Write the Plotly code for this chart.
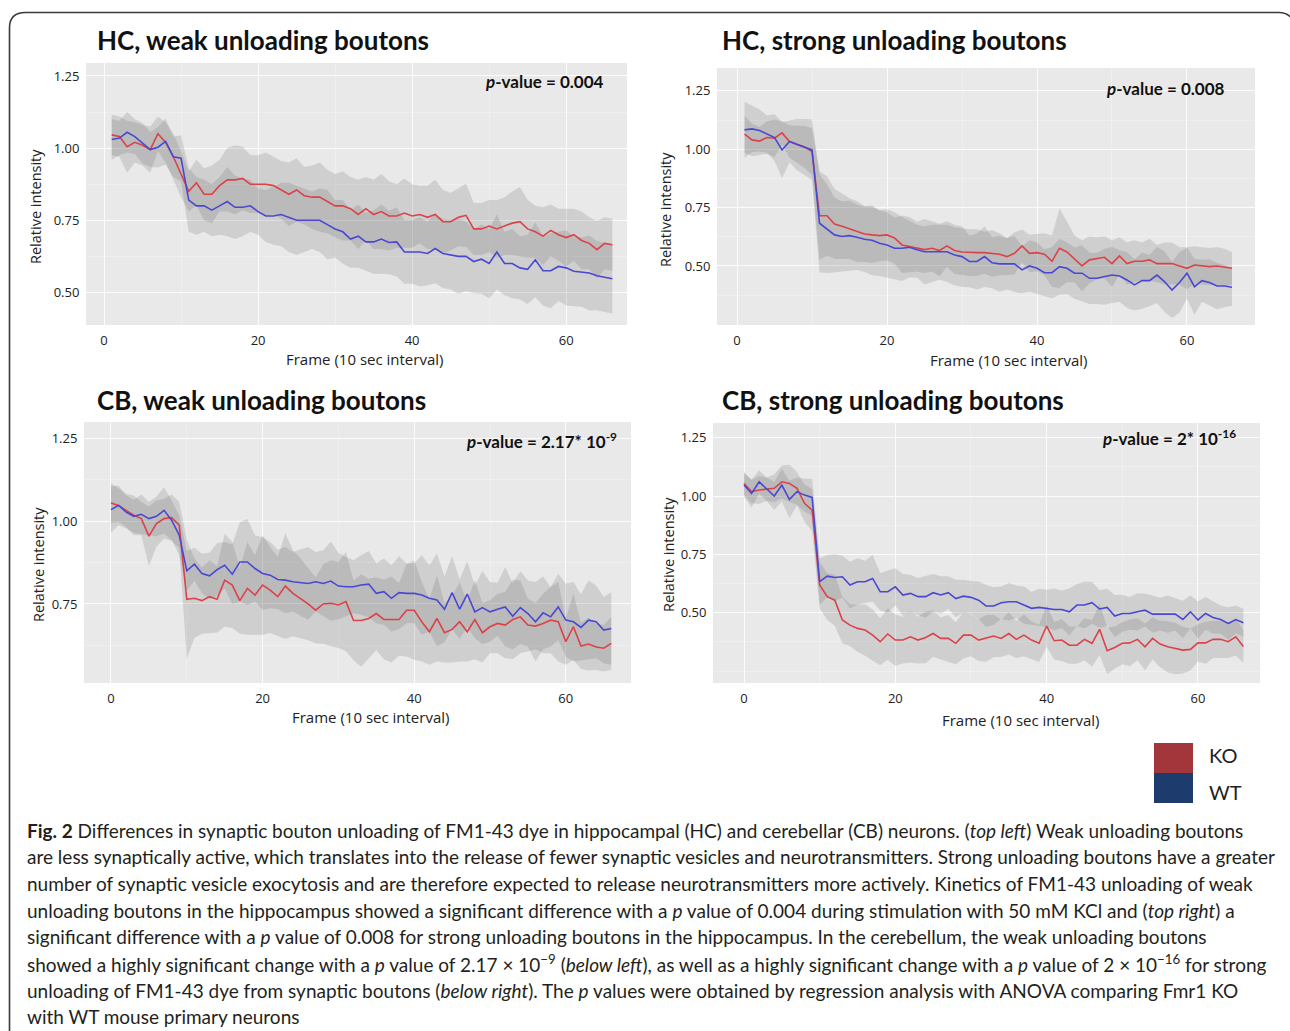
import numpy as np
import plotly.graph_objects as go

W, H = 1290, 1031

# ---------------- data ----------------
frames_hc = list(range(1, 67))
frames_cb = list(range(0, 67))
x_ticks = [0, 20, 40, 60]

hc_weak_ko = [1.046, 1.04, 1.005, 1.02, 1.01, 0.995, 1.05, 1.02, 0.97, 0.91,
              0.85, 0.88, 0.84, 0.84, 0.87, 0.89, 0.89, 0.895, 0.875, 0.875,
              0.875, 0.87, 0.855, 0.84, 0.855, 0.835, 0.83, 0.83, 0.815, 0.80,
              0.80, 0.79, 0.77, 0.79, 0.77, 0.78, 0.765, 0.765, 0.775, 0.765,
              0.77, 0.76, 0.77, 0.745, 0.745, 0.76, 0.767, 0.72, 0.72, 0.73,
              0.72, 0.73, 0.74, 0.745, 0.72, 0.71, 0.695, 0.715, 0.70, 0.69,
              0.70, 0.68, 0.67, 0.648, 0.67, 0.665]
hc_weak_ko_sd = [.07, .07, .09, .07, .07, .08, .06, .07, .08, .08,
                 .07, .08, .09, .10, .09, .11, .12, .11, .10, .10,
                 .11, .10, .10, .11, .11, .10, .11, .12, .11, .11,
                 .12, .11, .12, .11, .12, .13, .12, .11, .12, .11,
                 .10, .11, .12, .11, .10, .10, .11, .09, .09, .09,
                 .10, .10, .11, .12, .10, .09, .10, .09, .09, .10,
                 .09, .10, .09, .10, .09, .09]
hc_weak_wt = [1.03, 1.035, 1.055, 1.04, 1.017, 0.995, 1.003, 1.023, 0.97, 0.965,
              0.82, 0.80, 0.80, 0.785, 0.80, 0.815, 0.795, 0.795, 0.80, 0.78,
              0.765, 0.765, 0.77, 0.76, 0.75, 0.75, 0.75, 0.75, 0.735, 0.72,
              0.71, 0.685, 0.695, 0.675, 0.675, 0.685, 0.673, 0.675, 0.64, 0.64,
              0.64, 0.635, 0.652, 0.635, 0.63, 0.625, 0.625, 0.607, 0.615, 0.60,
              0.64, 0.60, 0.60, 0.585, 0.58, 0.613, 0.575, 0.575, 0.59, 0.585,
              0.573, 0.57, 0.567, 0.558, 0.552, 0.547]
hc_weak_wt_sd = [.07, .06, .07, .06, .07, .06, .07, .08, .07, .08,
                 .11, .10, .09, .09, .10, .12, .11, .10, .09, .08,
                 .09, .10, .11, .12, .12, .11, .10, .11, .12, .10,
                 .11, .10, .11, .10, .11, .12, .11, .12, .11, .11,
                 .12, .11, .12, .12, .12, .13, .12, .11, .12, .12,
                 .13, .11, .12, .11, .12, .13, .12, .13, .12, .13,
                 .12, .12, .13, .12, .12, .12]

hc_strong_ko = [1.065, 1.04, 1.035, 1.05, 1.047, 1.07, 1.033, 1.02, 1.01, 0.99,
                0.715, 0.715, 0.68, 0.67, 0.66, 0.647, 0.637, 0.633, 0.63, 0.633,
                0.62, 0.59, 0.583, 0.576, 0.57, 0.576, 0.566, 0.586, 0.566, 0.56,
                0.557, 0.557, 0.557, 0.554, 0.55, 0.54, 0.554, 0.586, 0.554, 0.557,
                0.55, 0.52, 0.576, 0.56, 0.53, 0.50, 0.526, 0.533, 0.537, 0.51,
                0.543, 0.51, 0.52, 0.52, 0.526, 0.51, 0.51, 0.51, 0.50, 0.49,
                0.504, 0.50, 0.497, 0.50, 0.494, 0.49]
hc_strong_ko_sd = [.08, .07, .06, .07, .08, .05, .07, .08, .09, .10,
                   .19, .17, .15, .14, .13, .13, .12, .12, .11, .11,
                   .11, .12, .11, .10, .10, .10, .11, .09, .10, .10,
                   .10, .10, .09, .10, .09, .08, .09, .07, .08, .08,
                   .09, .11, .17, .13, .10, .11, .10, .09, .09, .10,
                   .08, .09, .09, .08, .09, .08, .09, .09, .08, .09,
                   .08, .08, .08, .08, .08, .07]
hc_strong_wt = [1.083, 1.087, 1.08, 1.065, 1.05, 0.997, 1.033, 1.02, 1.01, 0.997,
                0.683, 0.66, 0.633, 0.626, 0.63, 0.623, 0.614, 0.61, 0.597, 0.59,
                0.576, 0.576, 0.58, 0.569, 0.561, 0.561, 0.561, 0.561, 0.547, 0.54,
                0.519, 0.519, 0.54, 0.514, 0.509, 0.509, 0.509, 0.483, 0.50, 0.49,
                0.471, 0.471, 0.497, 0.49, 0.469, 0.469, 0.447, 0.447, 0.454, 0.461,
                0.457, 0.44, 0.419, 0.437, 0.437, 0.461, 0.433, 0.397, 0.429, 0.469,
                0.411, 0.437, 0.429, 0.414, 0.414, 0.409]
hc_strong_wt_sd = [.12, .10, .09, .08, .10, .12, .09, .11, .12, .13,
                   .21, .19, .16, .15, .15, .14, .14, .15, .14, .14,
                   .13, .14, .13, .12, .14, .13, .12, .13, .13, .13,
                   .11, .12, .13, .11, .12, .11, .12, .10, .11, .11,
                   .10, .11, .12, .11, .11, .12, .11, .11, .12, .12,
                   .11, .12, .11, .12, .11, .12, .13, .12, .13, .11,
                   .12, .09, .10, .10, .09, .08]

cb_weak_ko = [1.055, 1.048, 1.033, 1.018, 1.008, 0.955, 0.993, 1.008, 1.011, 0.988,
              0.764, 0.767, 0.76, 0.772, 0.764, 0.822, 0.807, 0.76, 0.797, 0.777,
              0.807, 0.792, 0.772, 0.804, 0.782, 0.767, 0.75, 0.731, 0.75, 0.752,
              0.747, 0.757, 0.70, 0.70, 0.706, 0.721, 0.703, 0.703, 0.703, 0.731,
              0.731, 0.696, 0.666, 0.706, 0.663, 0.673, 0.696, 0.666, 0.703, 0.663,
              0.681, 0.691, 0.686, 0.703, 0.711, 0.686, 0.683, 0.691, 0.701, 0.696,
              0.636, 0.681, 0.623, 0.629, 0.62, 0.616, 0.631]
cb_weak_ko_sd = [.06, .05, .05, .06, .05, .09, .07, .06, .07, .07,
                 .18, .12, .10, .11, .10, .14, .13, .10, .14, .12,
                 .15, .13, .12, .16, .13, .12, .11, .10, .12, .13,
                 .13, .15, .12, .14, .12, .11, .12, .13, .11, .14,
                 .15, .12, .10, .13, .09, .10, .12, .09, .12, .09,
                 .08, .09, .10, .12, .11, .08, .07, .09, .10, .12,
                 .07, .10, .07, .08, .07, .07, .08]
cb_weak_wt = [1.035, 1.048, 1.028, 1.015, 1.021, 1.008, 1.015, 1.033, 1.003, 0.958,
              0.85, 0.87, 0.842, 0.835, 0.854, 0.867, 0.84, 0.877, 0.877, 0.857,
              0.842, 0.837, 0.824, 0.822, 0.817, 0.814, 0.812, 0.817, 0.812, 0.819,
              0.804, 0.802, 0.802, 0.807, 0.81, 0.782, 0.787, 0.767, 0.784, 0.782,
              0.782, 0.777, 0.767, 0.762, 0.734, 0.784, 0.734, 0.78, 0.726, 0.739,
              0.726, 0.734, 0.741, 0.713, 0.739, 0.721, 0.696, 0.723, 0.711, 0.741,
              0.701, 0.696, 0.679, 0.701, 0.696, 0.671, 0.676]
cb_weak_wt_sd = [.07, .06, .05, .05, .06, .05, .06, .07, .06, .06,
                 .06, .05, .06, .07, .08, .07, .09, .12, .13, .10,
                 .11, .10, .09, .10, .09, .10, .11, .09, .10, .12,
                 .10, .09, .08, .09, .10, .09, .10, .10, .11, .09,
                 .09, .12, .10, .14, .10, .11, .09, .10, .08, .11,
                 .09, .08, .12, .10, .11, .10, .12, .11, .09, .10,
                 .11, .12, .10, .12, .11, .10, .11]

cb_strong_ko = [1.054, 1.019, 1.026, 1.029, 1.033, 1.061, 1.054, 1.033, 0.969, 0.94,
                0.619, 0.569, 0.554, 0.469, 0.447, 0.433, 0.426, 0.404, 0.376, 0.409,
                0.383, 0.383, 0.397, 0.383, 0.394, 0.411, 0.39, 0.39, 0.369, 0.404,
                0.404, 0.383, 0.39, 0.40, 0.39, 0.411, 0.386, 0.404, 0.383, 0.369,
                0.443, 0.38, 0.383, 0.361, 0.361, 0.386, 0.369, 0.429, 0.337, 0.351,
                0.369, 0.371, 0.386, 0.354, 0.39, 0.366, 0.354, 0.347, 0.34, 0.343,
                0.371, 0.371, 0.386, 0.386, 0.376, 0.397, 0.355]
cb_strong_ko_sd = [.05, .05, .06, .05, .06, .07, .08, .07, .08, .09,
                   .10, .10, .11, .10, .09, .10, .11, .11, .10, .11,
                   .11, .10, .11, .10, .11, .10, .09, .10, .09, .10,
                   .09, .09, .10, .09, .08, .09, .08, .09, .08, .08,
                   .09, .08, .09, .08, .08, .09, .10, .11, .10, .09,
                   .09, .10, .09, .10, .09, .10, .11, .11, .10, .09,
                   .08, .09, .08, .08, .07, .08, .07]
cb_strong_wt = [1.047, 1.011, 1.061, 1.029, 1.0, 1.047, 0.986, 1.019, 1.004, 0.994,
                0.633, 0.657, 0.651, 0.654, 0.619, 0.633, 0.633, 0.647, 0.59, 0.59,
                0.611, 0.576, 0.583, 0.569, 0.569, 0.586, 0.576, 0.586, 0.561, 0.571,
                0.566, 0.554, 0.529, 0.529, 0.543, 0.547, 0.547, 0.533, 0.519, 0.523,
                0.519, 0.514, 0.514, 0.504, 0.533, 0.533, 0.543, 0.516, 0.523, 0.486,
                0.497, 0.497, 0.504, 0.511, 0.494, 0.494, 0.494, 0.494, 0.471, 0.504,
                0.469, 0.497, 0.48, 0.471, 0.454, 0.471, 0.457]
cb_strong_wt_sd = [.05, .06, .05, .05, .06, .07, .08, .06, .07, .08,
                   .10, .09, .10, .09, .10, .10, .09, .10, .08, .09,
                   .08, .09, .08, .08, .09, .08, .08, .07, .08, .07,
                   .07, .08, .09, .08, .07, .08, .07, .08, .07, .08,
                   .08, .09, .08, .10, .09, .10, .09, .08, .08, .09,
                   .08, .07, .08, .07, .08, .07, .08, .07, .08, .07,
                   .08, .07, .07, .06, .07, .06, .06]

panel_titles = ["HC, weak unloading boutons", "HC, strong unloading boutons",
                "CB, weak unloading boutons", "CB, strong unloading boutons"]
p_values = ["0.004", "0.008", "2.17* 10<sup>-9</sup>", "2* 10<sup>-16</sup>"]
group_names = ["KO", "WT"]

caption_lines = [
    "<b>Fig. 2</b> Differences in synaptic bouton unloading of FM1-43 dye in hippocampal (HC) and cerebellar (CB) neurons. (<i>top left</i>) Weak unloading boutons",
    "are less synaptically active, which translates into the release of fewer synaptic vesicles and neurotransmitters. Strong unloading boutons have a greater",
    "number of synaptic vesicle exocytosis and are therefore expected to release neurotransmitters more actively. Kinetics of FM1-43 unloading of weak",
    "unloading boutons in the hippocampus showed a significant difference with a <i>p</i> value of 0.004 during stimulation with 50 mM KCl and (<i>top right</i>) a",
    "significant difference with a <i>p</i> value of 0.008 for strong unloading boutons in the hippocampus. In the cerebellum, the weak unloading boutons",
    "showed a highly significant change with a <i>p</i> value of 2.17 × 10<sup>−9</sup> (<i>below left</i>), as well as a highly significant change with a <i>p</i> value of 2 × 10<sup>−16</sup> for strong",
    "unloading of FM1-43 dye from synaptic boutons (<i>below right</i>). The <i>p</i> values were obtained by regression analysis with ANOVA comparing Fmr1 KO",
    "with WT mouse primary neurons",
]

# ---------------- layout / style ----------------
KO_LINE = "#dc4249"
WT_LINE = "#4a48d2"
KO_SWATCH = "#a3363b"
WT_SWATCH = "#1d3b6c"
RIBBON = "rgba(105,105,105,0.2)"
PLOT_BG = "#e9e9e9"
TXT = "#222222"
TICK_FONT = dict(family="Open Sans", size=13, color=TXT)


def px(x):
    return x / W


def py(y):
    return 1 - y / H


panels = [
    dict(frames=frames_hc, ko=hc_weak_ko, ko_sd=hc_weak_ko_sd, wt=hc_weak_wt, wt_sd=hc_weak_wt_sd,
         box=(86, 627, 63, 325), xr=(-2.34, 67.9), yr=(0.387, 1.295),
         yt=[0.5, 0.75, 1.0, 1.25], title=(95, 40), pv=(606, 82),
         ytitle=(36, 207), xtitle=(364, 359)),
    dict(frames=frames_hc, ko=hc_strong_ko, ko_sd=hc_strong_ko_sd, wt=hc_strong_wt, wt_sd=hc_strong_wt_sd,
         box=(717, 1255, 68, 325), xr=(-2.67, 69.07), yr=(0.247, 1.348),
         yt=[0.5, 0.75, 1.0, 1.25], title=(720, 40), pv=(1227, 88),
         ytitle=(666, 210), xtitle=(1008, 360)),
    dict(frames=frames_cb, ko=cb_weak_ko, ko_sd=cb_weak_ko_sd, wt=cb_weak_wt, wt_sd=cb_weak_wt_sd,
         box=(84, 631, 422, 683), xr=(-3.56, 68.6), yr=(0.511, 1.30),
         yt=[0.75, 1.0, 1.25], title=(95, 400), pv=(619, 440),
         ytitle=(38, 565), xtitle=(370, 717)),
    dict(frames=frames_cb, ko=cb_strong_ko, ko_sd=cb_strong_ko_sd, wt=cb_strong_wt, wt_sd=cb_strong_wt_sd,
         box=(713, 1260, 423, 683), xr=(-4.1, 68.2), yr=(0.199, 1.313),
         yt=[0.5, 0.75, 1.0, 1.25], title=(720, 400), pv=(1238, 437),
         ytitle=(668, 555), xtitle=(1020, 720)),
]

fig = go.Figure()
annotations = []
layout_axes = {}

for i, p in enumerate(panels):
    k = "" if i == 0 else str(i + 1)
    xa, ya = "x" + k, "y" + k
    fr = p["frames"]
    # ribbons
    for mean, sd in ((p["ko"], p["ko_sd"]), (p["wt"], p["wt_sd"])):
        m = np.array(mean)
        s = np.array(sd)
        fig.add_trace(go.Scatter(x=fr, y=m - s, mode="lines", line=dict(width=0),
                                 showlegend=False, hoverinfo="skip", xaxis=xa, yaxis=ya))
        fig.add_trace(go.Scatter(x=fr, y=m + s, mode="lines", line=dict(width=0),
                                 fill="tonexty", fillcolor=RIBBON,
                                 showlegend=False, hoverinfo="skip", xaxis=xa, yaxis=ya))
    # mean lines
    fig.add_trace(go.Scatter(x=fr, y=p["ko"], mode="lines", name=group_names[0],
                             line=dict(color=KO_LINE, width=1.6), showlegend=False,
                             xaxis=xa, yaxis=ya))
    fig.add_trace(go.Scatter(x=fr, y=p["wt"], mode="lines", name=group_names[1],
                             line=dict(color=WT_LINE, width=1.6), showlegend=False,
                             xaxis=xa, yaxis=ya))

    l, r, t, b = p["box"]
    layout_axes["xaxis" + k] = dict(
        domain=[px(l), px(r)], range=list(p["xr"]), anchor=ya,
        tickvals=x_ticks, showgrid=True, gridcolor="rgba(255,255,255,0.85)", gridwidth=1,
        minor=dict(tickvals=[10, 30, 50], showgrid=True, gridcolor="rgba(255,255,255,0.45)", gridwidth=0.6),
        zeroline=False, showline=False, ticks="outside", ticklen=3, tickcolor="rgba(0,0,0,0)",
        tickfont=TICK_FONT, fixedrange=True)
    yt = p["yt"]
    layout_axes["yaxis" + k] = dict(
        domain=[py(b), py(t)], range=list(p["yr"]), anchor=xa,
        tickvals=yt, tickformat=".2f",
        showgrid=True, gridcolor="rgba(255,255,255,0.85)", gridwidth=1,
        minor=dict(tickvals=[0.25, 0.375, 0.625, 0.875, 1.125], showgrid=True,
                   gridcolor="rgba(255,255,255,0.45)", gridwidth=0.6),
        zeroline=False, showline=False, ticks="outside", ticklen=3, tickcolor="rgba(0,0,0,0)",
        tickfont=TICK_FONT, fixedrange=True)

    # panel title
    annotations.append(dict(text="<b>" + panel_titles[i] + "</b>", x=px(p["title"][0]), y=py(p["title"][1]),
                            xref="paper", yref="paper", xanchor="left", yanchor="middle", showarrow=False,
                            font=dict(family="Lato", size=26, color="#111111")))
    # p-value
    annotations.append(dict(text="<b><i>p</i>-value = " + p_values[i] + "</b>",
                            x=px(p["pv"][0]), y=py(p["pv"][1]), xref="paper", yref="paper",
                            xanchor="right", yanchor="middle", showarrow=False,
                            font=dict(family="Lato", size=17, color="#111111")))
    # axis titles
    annotations.append(dict(text="Relative intensity", x=px(p["ytitle"][0]), y=py(p["ytitle"][1]),
                            xref="paper", yref="paper", xanchor="center", yanchor="middle",
                            textangle=-90, showarrow=False,
                            font=dict(family="Open Sans", size=14.5, color=TXT)))
    annotations.append(dict(text="Frame (10 sec interval)", x=px(p["xtitle"][0]), y=py(p["xtitle"][1]),
                            xref="paper", yref="paper", xanchor="center", yanchor="middle",
                            showarrow=False, font=dict(family="Open Sans", size=15, color=TXT)))

# legend
legend_items = [(group_names[0], KO_SWATCH, 743, 773, 755), (group_names[1], WT_SWATCH, 773, 803, 792)]
shapes = []
for name, col, y0, y1, yc in legend_items:
    shapes.append(dict(type="rect", xref="paper", yref="paper", x0=px(1154), x1=px(1193),
                       y0=py(y1), y1=py(y0), fillcolor=col, line=dict(width=0)))
    annotations.append(dict(text=name, x=px(1207), y=py(yc), xref="paper", yref="paper",
                            xanchor="left", yanchor="middle", showarrow=False,
                            font=dict(family="Lato", size=20, color=TXT)))

# border
border = ("M {a},{b} L {a},{c} Q {a},{d} {e},{d} L {f},{d} Q {g},{d} {h},{i}").format(
    a=px(9.5), b=py(1045), c=py(28), d=py(12.5), e=px(25.5), f=px(1279), g=px(1288), h=px(1293), i=py(20))
shapes.append(dict(type="path", path=border, xref="paper", yref="paper",
                   line=dict(color="#3a3a3a", width=1.6)))

# caption
for j, line in enumerate(caption_lines):
    annotations.append(dict(text=line, x=px(25), y=py(830 + 26.7 * j), xref="paper", yref="paper",
                            xanchor="left", yanchor="middle", showarrow=False, align="left",
                            font=dict(family="Lato", size=19.0, color="#231f20")))

fig.update_layout(
    width=W, height=H, margin=dict(l=0, r=0, t=0, b=0),
    paper_bgcolor="white", plot_bgcolor=PLOT_BG, showlegend=False,
    annotations=annotations, shapes=shapes, **layout_axes)

fig.write_html("out.html", config={"displayModeBar": False, "staticPlot": True},
               post_script="document.body.style.margin='0';document.body.style.overflow='hidden';")
